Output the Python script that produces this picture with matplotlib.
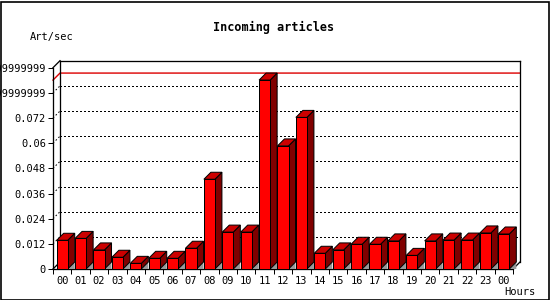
import numpy as np
import matplotlib
matplotlib.use('Agg')
import matplotlib.pyplot as plt
from matplotlib.patches import Rectangle, Polygon

# ------------------- data -------------------
hours = ['00', '01', '02', '03', '04', '05', '06', '07', '08', '09', '10', '11',
         '12', '13', '14', '15', '16', '17', '18', '19', '20', '21', '22', '23', '00']
art_sec = [0.0137, 0.0146, 0.0091, 0.0056, 0.0027, 0.0051, 0.0051, 0.0099,
           0.0428, 0.0176, 0.0176, 0.0901, 0.0587, 0.0723, 0.0075, 0.0091,
           0.0118, 0.0118, 0.0134, 0.0065, 0.0134, 0.0138, 0.0138, 0.0172, 0.0167]
ytick_vals = [0, 0.012, 0.024, 0.036, 0.048, 0.06, 0.072, 0.084, 0.096]
ytick_labels = ['0', '0.012', '0.024', '0.036', '0.048', '0.06', '0.072',
                '0.0839999999999999', '0.0959999999999999']

W, H = 550, 300
fig = plt.figure(figsize=(W / 100, H / 100), dpi=100)
fig.patch.set_facecolor('white')

ax_h = 201.3
ax = fig.add_axes([53 / W, 31 / H, 460 / W, ax_h / H])
ymax = 0.096
ax.set_xlim(-0.5, 24.5)
ax.set_ylim(0, ymax)
for s in ax.spines.values():
    s.set_visible(False)
ax.patch.set_visible(False)

# 3D depth (7 px) in data units
dx = 7 * 25 / 460
dy = 7 * ymax / ax_h
lw = 0.72
x_l, x_r = -0.5, 24.5

# grid on back wall + little dotted stubs on the side wall
for v in ytick_vals[1:-1]:
    ax.plot([x_l + dx, x_r + dx], [v + dy, v + dy], color='black', lw=lw,
            dashes=(1.6, 2.2), clip_on=False, zorder=1, antialiased=False)
    ax.plot([x_l, x_l + dx], [v, v + dy], color='black', lw=lw,
            dashes=(1.6, 2.2), clip_on=False, zorder=1)

# max line (red)
vmax = max(art_sec)
ax.plot([x_l, x_l + dx, x_r + dx], [vmax, vmax + dy, vmax + dy], color='#dd0000',
        lw=lw * 1.4, clip_on=False, zorder=1.5)

# frame
frame = [
    ([x_l, x_l], [0, ymax]),
    ([x_l, x_l + dx], [ymax, ymax + dy]),
    ([x_l + dx, x_l + dx], [dy, ymax + dy]),
    ([x_l + dx, x_r + dx], [ymax + dy, ymax + dy]),
    ([x_r + dx, x_r + dx], [dy, ymax + dy]),
    ([x_l, x_r], [0, 0]),
    ([x_r, x_r + dx], [0, dy]),
    ([x_l, x_l + dx], [0, dy]),
]
for xs, ys in frame:
    ax.plot(xs, ys, color='black', lw=lw * 1.3, clip_on=False, zorder=2,
            solid_capstyle='projecting')

# bars
bw = 0.6
for i, v in enumerate(art_sec):
    x0 = i - bw / 2
    x1 = i + bw / 2
    ax.add_patch(Polygon([(x1, 0), (x1 + dx, dy), (x1 + dx, 0)], closed=True,
                         fc='#999999', ec='none', clip_on=False, zorder=3))
    ax.add_patch(Polygon([(x1, 0), (x1, v), (x1 + dx, v + dy), (x1 + dx, dy)],
                         closed=True, fc='#800000', ec='black', lw=lw,
                         clip_on=False, zorder=4))
    ax.add_patch(Polygon([(x0, v), (x1, v), (x1 + dx, v + dy), (x0 + dx, v + dy)],
                         closed=True, fc='#cc0000', ec='black', lw=lw,
                         clip_on=False, zorder=4))
    ax.add_patch(Rectangle((x0, 0), bw, v, fc='#ff0000', ec='black', lw=lw,
                           clip_on=False, zorder=5))

mono = 'DejaVu Sans Mono'
ax.set_yticks(ytick_vals)
ax.set_yticklabels(ytick_labels, family=mono, fontsize=7.5)
ax.tick_params(axis='y', length=3.6, width=lw, pad=1.5, color='black')

ax.set_xticks(np.arange(-0.5, 25, 1))
ax.set_xticklabels([])
ax.set_xticks(np.arange(len(hours)), minor=True)
ax.set_xticklabels(hours, minor=True, family=mono, fontsize=7.5)
ax.tick_params(axis='x', which='major', length=3.6, width=lw, color='black')
ax.tick_params(axis='x', which='minor', length=0, pad=5)

fig.text(274 / W, 1 - 27 / H, 'Incoming articles', ha='center', va='center',
         family=mono, fontsize=8.5, fontweight='bold')
fig.text(30 / W, 1 - 37 / H, 'Art/sec', ha='left', va='center', family=mono, fontsize=7.5)
fig.text(504 / W, 1 - 292 / H, 'Hours', ha='left', va='center', family=mono, fontsize=7.5)

# image border
fig.patches.append(Rectangle((0.5 / W, 0.5 / H), (W - 2) / W, (H - 2) / H,
                             transform=fig.transFigure, fill=False, ec='black', lw=1.2))

fig.savefig('out.png', dpi=100)
